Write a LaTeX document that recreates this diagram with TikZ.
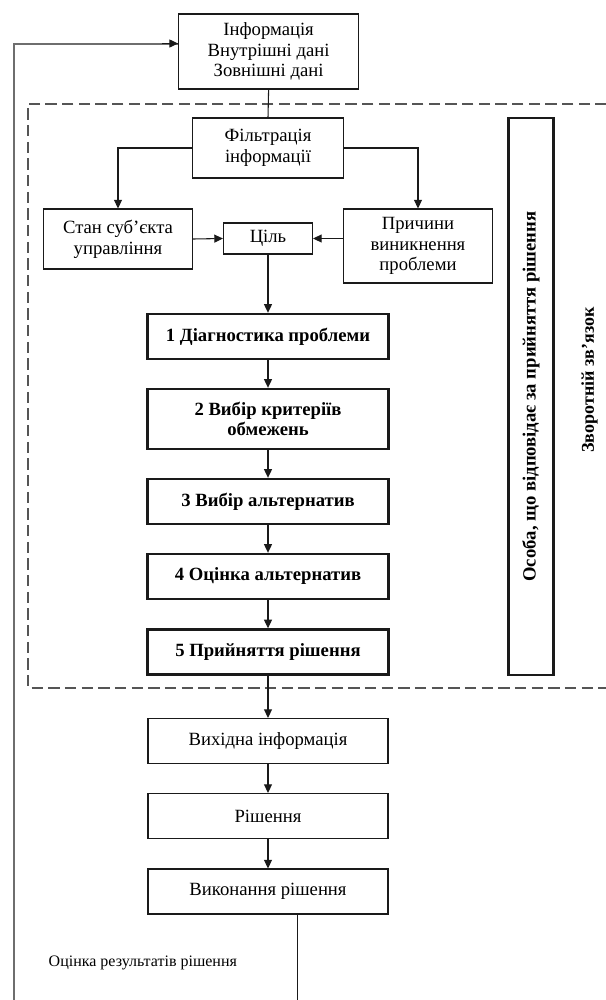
\documentclass[tikz,border=0pt]{standalone}
\usepackage{fontspec}
\setmainfont{Liberation Serif}
\usepackage{tikz}
\usetikzlibrary{arrows.meta}
\definecolor{ink}{HTML}{1A1A1A}
\definecolor{frameline}{HTML}{555555}
\definecolor{loopline}{HTML}{6E6E6E}
\tikzset{
  box/.style={draw=ink, line width=0.8pt, fill=white, align=center, inner sep=0pt, font=\fontsize{14}{15.6}\selectfont},
  stepbox/.style={box, line width=1.8pt, font=\fontsize{14}{15.6}\selectfont\bfseries},
  arrow/.style={-{Triangle[length=6.5pt, width=6pt]}, line width=0.8pt, draw=ink},
  plain/.style={line width=0.8pt, draw=ink},
  frame/.style={draw=frameline, line width=1.4pt, dash pattern=on 8.5pt off 4pt},
  loop/.style={draw=loopline, line width=1.5pt},
}

\begin{document}
\begin{tikzpicture}[x=0.75pt, y=-0.75pt]
  \useasboundingbox (0,0) rectangle (606,1000);
  \clip (0,0) rectangle (606,1000);
  % dashed frame round the decision process, open past the right edge
  \draw[frame] (640,104) -- (27.8,104) -- (27.8,688) -- (640,688);

  \node[box, minimum width=135pt, minimum height=56.25pt] (info) at (268.6,51.5) {Інформація\\Внутрішні дані\\Зовнішні дані};
  \node[box, minimum width=113.25pt, minimum height=45pt] (filter) at (268,148) {Фільтрація\\інформації};
  \node[box, minimum width=111.75pt, minimum height=45pt] (state) at (118,239) {Стан суб’єкта\\управління};
  \node[box, minimum width=66.75pt, minimum height=23.25pt] (goal) at (268,238.5) {Ціль};
  \node[box, minimum width=111.75pt, minimum height=55.5pt] (causes) at (418,246) {Причини\\виникнення\\проблеми};
  \node[stepbox, rotate=90, minimum width=417.75pt, minimum height=33.75pt] (person) at (531,396.5) {Особа, що відповідає за прийняття рішення};
  \node[font=\fontsize{13.5}{15}\selectfont\bfseries, rotate=90] (fbtext) at (589.5,380) {Зворотній зв'язок};

  % five steps
  \node[stepbox, minimum width=180.75pt, minimum height=33.75pt] (step1) at (268,336.5) {1 Діагностика проблеми};
  \node[stepbox, minimum width=180.75pt, minimum height=45pt] (step2) at (268,419) {2 Вибір критеріїв\\обмежень};
  \node[stepbox, minimum width=180.75pt, minimum height=33.75pt] (step3) at (268,501.5) {3 Вибір альтернатив};
  \node[stepbox, minimum width=180.75pt, minimum height=33.75pt] (step4) at (268,576.5) {4 Оцінка альтернатив};
  \node[stepbox, minimum width=180.75pt, minimum height=33.75pt] (step5) at (268,652) {5 Прийняття рішення};

  \node[box, minimum width=180pt, minimum height=33.75pt] (output) at (268,741) {Вихідна інформація};
  \node[box, minimum width=180pt, minimum height=33.75pt] (decision) at (268,816) {Рішення};
  \node[box, minimum width=180pt, minimum height=33.75pt] (exec) at (268,891.5) {Виконання рішення};
  \node[font=\fontsize{12}{14}\selectfont, anchor=west] (evaltext) at (44,963) {Оцінка результатів рішення};

  \coordinate (loopend) at (297.6,1000);
  \coordinate (loopstart) at (14,1000);

  \draw[plain] (info.south) -- (filter.north);
  \draw[arrow] (filter.west) -| (state.north);
  \draw[arrow] (filter.east) -| (causes.north);
  \draw[arrow] (state.east) -- (goal.west);
  \draw[arrow] (causes.west |- goal.east) -- (goal.east);
  \draw[arrow] (goal.south) -- (step1.north);
  \draw[arrow] (step1.south) -- (step2.north);
  \draw[arrow] (step2.south) -- (step3.north);
  \draw[arrow] (step3.south) -- (step4.north);
  \draw[arrow] (step4.south) -- (step5.north);
  \draw[arrow] (step5.south) -- (output.north);
  \draw[arrow] (output.south) -- (decision.north);
  \draw[arrow] (decision.south) -- (exec.north);
  \draw[plain, line width=1.2pt] (exec.south -| loopend) -- (loopend);
  \draw[loop] (loopstart) |- ([yshift=6pt]info.west);
  \draw[arrow] ([yshift=6pt,xshift=-12pt]info.west) -- ([yshift=6pt]info.west);
\end{tikzpicture}
\end{document}
